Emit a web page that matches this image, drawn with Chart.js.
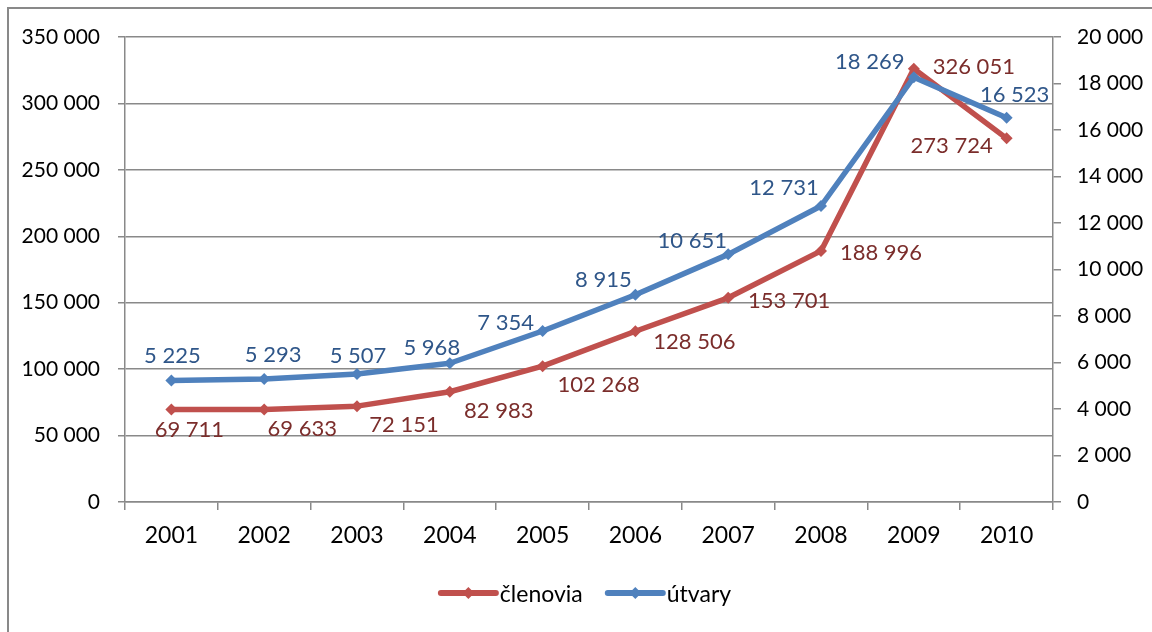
<!DOCTYPE html>
<html>
<head>
<meta charset="utf-8">
<script src="https://cdn.jsdelivr.net/npm/chart.js@4/dist/chart.umd.min.js"></script>
<style>
  html,body{margin:0;padding:0;background:#fff;}
  #wrap{position:relative;width:1152px;height:632px;overflow:hidden;}
  #frame{position:absolute;left:7px;top:7px;width:1300px;height:800px;border-left:2px solid #898989;border-top:2px solid #898989;}
  #c{position:absolute;left:0;top:0;}
</style>
</head>
<body>
<div id="wrap">
  <div id="frame"></div>
  <canvas id="c" width="1152" height="632"></canvas>
</div>
<script>
const years = ["2001","2002","2003","2004","2005","2006","2007","2008","2009","2010"];
const clenovia = [69711, 69633, 72151, 82983, 102268, 128506, 153701, 188996, 326051, 273724];
const utvary = [5225, 5293, 5507, 5968, 7354, 8915, 10651, 12731, 18269, 16523];
const leftMax = 350000, leftStep = 50000;
const rightMax = 20000, rightStep = 2000;

// label placement relative to each point (as in the original chart)
const clenoviaLabelDx = [18, 38, 47, 49, 56, 59, 61, 60, 60, -55];
const clenoviaLabelDy = [20, 19, 18, 18, 18, 10, 2, 1, -3, 7];
const utvaryLabelDx = [1, 9, 1, -18, -37, -32, -36, -37, -44, 8];
const utvaryLabelDy = [-26, -25, -19, -16, -9, -16, -14, -19, -16, -24];

const RED = "#C0504D", BLUE = "#4F81BD";
const RED_TXT = "#7B2D2B", BLUE_TXT = "#2F5689";
const GRID = "#898989";
const FONT = "Lato";

const fmt = v => String(v).replace(/\B(?=(\d{3})+(?!\d))/g, " ");

const labelsPlugin = {
  id: "labels",
  afterDatasetsDraw(chart) {
    const ctx = chart.ctx;
    ctx.save();
    ctx.font = "22px " + FONT;
    ctx.textAlign = "center";
    ctx.textBaseline = "alphabetic";
    chart.data.datasets.forEach((ds, di) => {
      const meta = chart.getDatasetMeta(di);
      ctx.fillStyle = ds.labelColor;
      meta.data.forEach((pt, i) => {
        ctx.fillText(fmt(ds.data[i]), pt.x + ds.labelDx[i], pt.y + ds.labelDy[i] + 8);
      });
    });
    ctx.restore();
  }
};

const legendPlugin = {
  id: "legendLine",
  afterDraw(chart) {
    const ctx = chart.ctx;
    const area = chart.chartArea;
    ctx.save();
    ctx.font = "23px " + FONT;
    const items = chart.data.datasets.map(ds => ({ ds, w: ctx.measureText(ds.label).width }));
    const lineW = 55, gap = 4, between = 25;
    let total = 0;
    items.forEach((it, i) => { total += lineW + gap + it.w + (i ? between : 0); });
    let x = (area.left + area.right) / 2 - total / 2 - 3;
    const y = 593;
    items.forEach(it => {
      ctx.strokeStyle = it.ds.borderColor;
      ctx.lineWidth = 6;
      ctx.lineCap = "round";
      ctx.beginPath(); ctx.moveTo(x, y); ctx.lineTo(x + lineW, y); ctx.stroke();
      const cx = x + lineW / 2;
      ctx.fillStyle = it.ds.borderColor;
      ctx.beginPath();
      ctx.moveTo(cx, y - 6); ctx.lineTo(cx + 6, y); ctx.lineTo(cx, y + 6); ctx.lineTo(cx - 6, y);
      ctx.closePath(); ctx.fill();
      ctx.fillStyle = "#000";
      ctx.textBaseline = "alphabetic";
      ctx.fillText(it.ds.label, x + lineW + gap, y + 9);
      x += lineW + gap + it.w + between;
    });
    ctx.restore();
  }
};

new Chart(document.getElementById("c"), {
  type: "line",
  data: {
    labels: years,
    datasets: [
      {
        label: "členovia", data: clenovia, yAxisID: "yL", order: 1,
        borderColor: RED, backgroundColor: RED, borderWidth: 5.5,
        pointStyle: "rectRot", pointRadius: 6, pointBorderWidth: 0,
        borderJoinStyle: "round", tension: 0,
        labelColor: RED_TXT, labelDx: clenoviaLabelDx, labelDy: clenoviaLabelDy
      },
      {
        label: "útvary", data: utvary, yAxisID: "yR", order: 0,
        borderColor: BLUE, backgroundColor: BLUE, borderWidth: 5.5,
        pointStyle: "rectRot", pointRadius: 6, pointBorderWidth: 0,
        borderJoinStyle: "round", tension: 0,
        labelColor: BLUE_TXT, labelDx: utvaryLabelDx, labelDy: utvaryLabelDy
      }
    ]
  },
  options: {
    responsive: false,
    animation: false,
    layout: { padding: { left: 0, right: 0, top: 37, bottom: 0 } },
    plugins: { legend: { display: false }, tooltip: { enabled: false } },
    scales: {
      x: {
        type: "category",
        offset: true,
        grid: { offset: true, drawOnChartArea: false, drawTicks: true, tickLength: 8, color: GRID, lineWidth: 1.5 },
        border: { color: GRID, width: 1.5 },
        ticks: { color: "#000", font: { family: FONT, size: 23 }, padding: 12, maxRotation: 0 },
        afterFit(s) { s.height = 130; }
      },
      yL: {
        position: "left", min: 0, max: leftMax,
        ticks: { stepSize: leftStep, color: "#000", font: { family: FONT, size: 21 }, padding: 18, callback: v => fmt(v) },
        grid: { color: GRID, lineWidth: 1.5, tickLength: 7 },
        border: { color: GRID, width: 1.5 },
        afterFit(s) { s.width = 125; }
      },
      yR: {
        position: "right", min: 0, max: rightMax,
        ticks: { stepSize: rightStep, color: "#000", font: { family: FONT, size: 21 }, padding: 16, callback: v => fmt(v) },
        grid: { drawOnChartArea: false, color: GRID, lineWidth: 1.5, tickLength: 8 },
        border: { color: GRID, width: 1.5 },
        afterFit(s) { s.width = 99; }
      }
    }
  },
  plugins: [labelsPlugin, legendPlugin]
});
</script>
</body>
</html>
